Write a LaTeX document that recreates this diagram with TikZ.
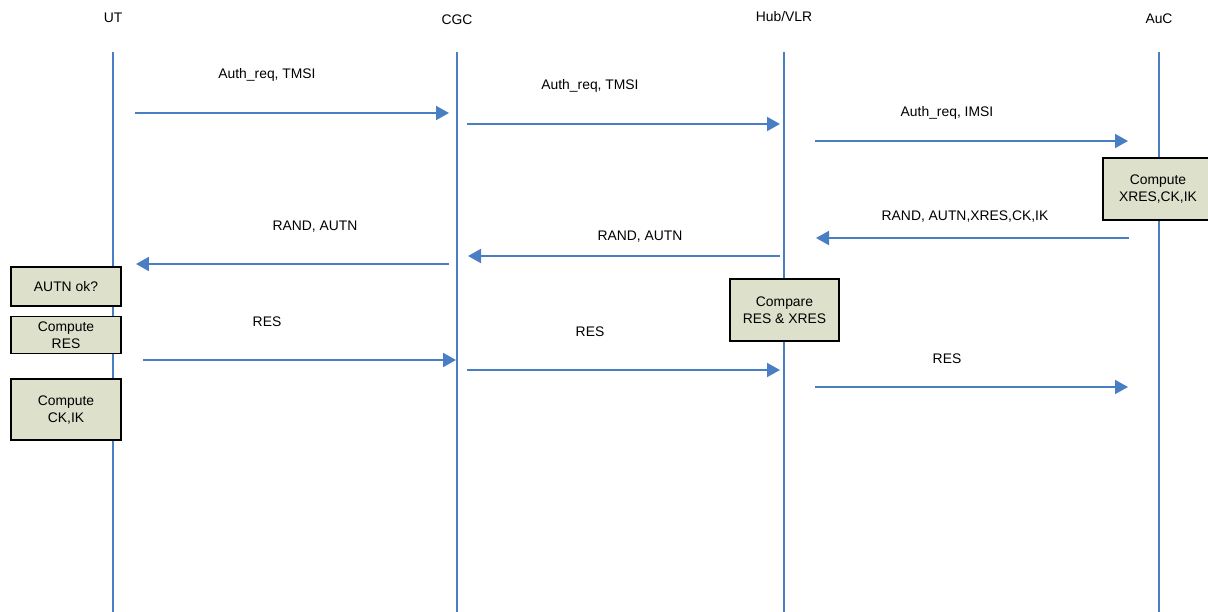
\documentclass[tikz,border=0pt]{standalone}
\usepackage{fontspec}
\setmainfont{Liberation Sans}
\usetikzlibrary{arrows.meta,positioning}
\definecolor{lineblue}{HTML}{4A7EC4}
\definecolor{procfill}{HTML}{DDE0CB}
\tikzset{
  life/.style={draw=lineblue, line width=1.1pt},
  msg/.style={-{Triangle[length=2.6mm, width=2.8mm]}, draw=lineblue, line width=1.1pt},
  proc/.style={draw=black, line width=.9pt, fill=procfill, align=center, inner sep=2pt, font=\fontsize{7.9}{9.6}\selectfont},
  ent/.style={font=\fontsize{7.9}{9.6}\selectfont},
  lbl/.style={font=\fontsize{7.9}{9.6}\selectfont, inner sep=1pt},
}

\begin{document}
\begin{tikzpicture}[x=0.02cm, y=-0.02cm]
    \useasboundingbox (0,0) rectangle (1208,612);

    % entities and life lines
    \node[ent] (ut) at (113,18) {UT};
    \node[ent] (cgc) at (457,20) {CGC};
    \node[ent] (hub) at (784,17) {Hub/VLR};
    \node[ent] (auc) at (1159,19) {AuC};
    \foreach \n/\x in {ut/113, cgc/457, hub/784, auc/1159}{
      \coordinate (\n-top) at (\x,52);
      \coordinate (\n-bot) at (\x,612);
      \draw[life] (\n-top) -- (\n-bot);
    }

    % messages
    \foreach \i/\xa/\xb/\y in {1/135/449/113, 2/467/780/124, 3/815/1128/141,
                               4/1129/816/238, 5/780/468/256, 6/449/136/264,
                               7/143/456/360, 8/467/780/370, 9/815/1128/387}{
      \coordinate (m\i-s) at (\xa,\y);
      \coordinate (m\i-e) at (\xb,\y);
      \draw[msg] (m\i-s) -- (m\i-e);
    }
    \node[lbl] (l1) at (267,75) {Auth\_req, TMSI};
    \node[lbl] (l2) at (590,86) {Auth\_req, TMSI};
    \node[lbl] (l3) at (947,113) {Auth\_req, IMSI};
    \node[lbl] (l4) at (965,217) {RAND, AUTN,XRES,CK,IK};
    \node[lbl] (l5) at (640,237) {RAND, AUTN};
    \node[lbl] (l6) at (315,227) {RAND, AUTN};
    \node[lbl] (l7) at (267,322) {RES};
    \node[lbl] (l8) at (590,332) {RES};
    \node[lbl] (l9) at (947,359) {RES};

    % processing boxes
    \node[proc, minimum width=2.2cm, minimum height=1.24cm] (xres) at (1158,189) {Compute\\XRES,CK,IK};
    \node[proc, minimum width=2.2cm, minimum height=.78cm] (autn) at (66,286.5) {AUTN ok?};
    \node[proc, below=1.8mm of autn, minimum width=2.2cm, minimum height=.74cm] (res) {Compute\\RES};
    \node[proc, below=4.8mm of res, minimum width=2.2cm, minimum height=1.22cm] (ckik) {Compute\\CK,IK};
    \node[proc, minimum width=2.18cm, minimum height=1.24cm] (cmp) at (784.5,310) {Compare\\RES \& XRES};
  \end{tikzpicture}
\end{document}
